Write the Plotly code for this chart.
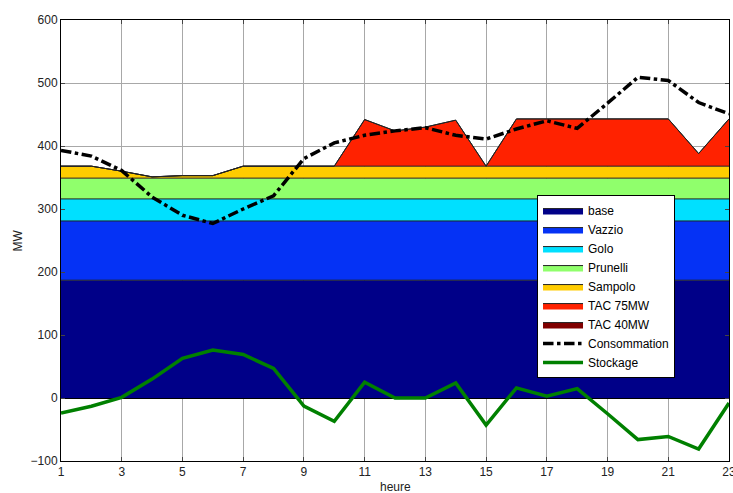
import plotly.graph_objects as go

heures = list(range(1, 24))
base = [187] * 23
vazzio = [94] * 23
golo = [35] * 23
prunelli = [33] * 23
sampolo = [19, 19, 11, 2, 4, 4, 19, 19, 19, 19, 19, 19, 19, 19, 19, 19, 19, 19, 19, 19, 19, 19, 19]
tac75 = [0, 0, 0, 0, 0, 0, 0, 0, 0, 0, 74, 56, 62, 73, 0, 75, 75, 75, 75, 75, 75, 20, 75]
tac40 = [0] * 23
consommation = [393, 384, 361, 319, 290, 277, 300, 321, 380, 405, 417, 424, 429, 417, 411,
                427, 440, 428, 468, 509, 504, 469, 451]
stockage = [-24, -13, 1, 30, 63, 76, 69, 47, -13, -37, 25, 0, 0, 24, -43,
            16, 3, 15, -25, -66, -61, -81, -8]

x_ticks = list(range(1, 24, 2))
y_ticks = list(range(-100, 601, 100))

fig = go.Figure()
areas = [
    ("base", base, "#000088"),
    ("Vazzio", vazzio, "#0532f5"),
    ("Golo", golo, "#00e0ff"),
    ("Prunelli", prunelli, "#90ff6c"),
    ("Sampolo", sampolo, "#ffcc00"),
    ("TAC 75MW", tac75, "#ff2200"),
    ("TAC 40MW", tac40, "#800000"),
]
for name, vals, col in areas:
    fig.add_trace(go.Scatter(
        x=heures, y=vals, name=name, stackgroup="one", mode="lines",
        line=dict(color="#222222", width=1), fillcolor=col,
    ))

fig.add_trace(go.Scatter(
    x=heures, y=consommation, name="Consommation", mode="lines",
    line=dict(color="black", width=3.5, dash="dashdot"),
))
fig.add_trace(go.Scatter(
    x=heures, y=stockage, name="Stockage", mode="lines",
    line=dict(color="#008000", width=3.5),
))

fam = "Liberation Sans, Arial, sans-serif"
axis_font = dict(family=fam, size=12, color="#222222")
fig.update_layout(
    width=733, height=493,
    margin=dict(l=61, r=4, t=20, b=32),
    paper_bgcolor="white", plot_bgcolor="white",
    font=axis_font,
    showlegend=True,
    legend=dict(
        x=0.7126, y=0.603, xanchor="left", yanchor="top",
        bgcolor="white", bordercolor="black", borderwidth=1,
        font=dict(family=fam, size=12, color="black"),
        itemwidth=40, tracegroupgap=0, traceorder="normal",
    ),
    xaxis=dict(
        range=[1, 23], tickvals=x_ticks, ticks="inside", ticklen=4,
        showline=True, linecolor="black", linewidth=1, mirror="allticks",
        showgrid=True, gridcolor="#a8a8a8", gridwidth=1, zeroline=False,
        automargin=False, tickfont=axis_font, ticklabeloverflow="allow",
    ),
    yaxis=dict(
        range=[-100, 600], tickvals=y_ticks, ticks="inside", ticklen=4,
        showline=True, linecolor="black", linewidth=1, mirror="allticks",
        showgrid=True, gridcolor="#a8a8a8", gridwidth=1,
        zeroline=True, zerolinecolor="black", zerolinewidth=1,
        automargin=False, tickfont=axis_font,
    ),
    annotations=[
        dict(text="heure", xref="paper", yref="paper", x=0.5, y=-0.059,
             xanchor="center", yanchor="middle", showarrow=False, font=axis_font),
        dict(text="MW", xref="paper", yref="paper", x=-0.0644, y=0.5,
             xanchor="center", yanchor="middle", showarrow=False, textangle=-90,
             font=axis_font),
    ],
)

fig.write_html(
    "out.html",
    config={"displayModeBar": False},
    post_script="document.body.style.margin='0';document.body.style.overflow='hidden';",
)
